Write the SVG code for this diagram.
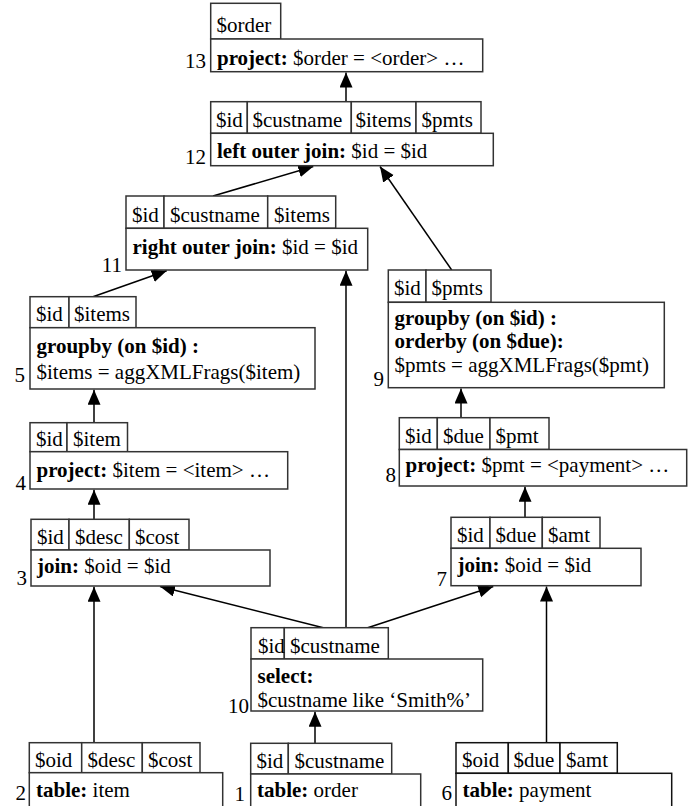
<svg xmlns="http://www.w3.org/2000/svg" width="692" height="806" viewBox="0 0 692 806">
<defs>
<style>
text{font-family:"Liberation Serif","Times New Roman",serif;font-size:21px;fill:#000}
.b{font-weight:bold}
.lbl{text-anchor:end}
rect{fill:#fff;stroke:#333;stroke-width:1.5}
.dk rect{stroke:#111}
.c line{stroke:#000;stroke-width:1.5;marker-end:url(#ah)}
</style>
<marker id="ah" markerUnits="userSpaceOnUse" markerWidth="16" markerHeight="14" refX="15" refY="6.5" orient="auto">
<path d="M0,0 L15,6.5 L0,13 z" fill="#000"/>
</marker>
</defs>
<rect x="0" y="0" width="692" height="806" style="fill:#fff;stroke:none"/>

<g class="c" id="connectors">
<line x1="346" y1="101.7" x2="346" y2="72.5"/>
<line x1="213" y1="196" x2="313.3" y2="166.5"/>
<line x1="451.7" y1="270" x2="380" y2="166.5"/>
<line x1="93" y1="296.7" x2="166.7" y2="270.8"/>
<line x1="346" y1="627.7" x2="346" y2="270.8"/>
<line x1="94" y1="422.7" x2="94" y2="389.8"/>
<line x1="94" y1="519.3" x2="94" y2="489.8"/>
<line x1="94" y1="742.7" x2="94" y2="586.8"/>
<line x1="323.3" y1="627.7" x2="160" y2="586.5"/>
<line x1="367.7" y1="627.7" x2="493.3" y2="586.5"/>
<line x1="546.5" y1="742.7" x2="546.5" y2="586.5"/>
<line x1="315" y1="743.3" x2="315" y2="711.8"/>
<line x1="461" y1="417.7" x2="461" y2="388.5"/>
<line x1="525" y1="517.3" x2="525" y2="486.8"/>
</g>

<g id="n13">
<rect x="210.7" y="3.3" width="70" height="35.7"/>
<text x="216.5" y="32">$order</text>
<rect x="210.7" y="39" width="272" height="32.7"/>
<text x="217" y="64.5"><tspan class="b">project:</tspan> $order = &lt;order&gt; …</text>
<text class="lbl" x="206" y="68">13</text>
</g>

<g id="n12">
<rect x="210.7" y="101.7" width="36.6" height="31.6"/>
<rect x="247.3" y="101.7" width="104" height="31.6"/>
<rect x="351.3" y="101.7" width="64.7" height="31.6"/>
<rect x="416" y="101.7" width="65" height="31.6"/>
<text x="216" y="126.5">$id</text>
<text x="252.5" y="126.5">$custname</text>
<text x="355.5" y="126.5">$items</text>
<text x="421.5" y="126.5">$pmts</text>
<rect x="210.7" y="133.3" width="282.6" height="32.4"/>
<text x="217" y="157.5"><tspan class="b">left outer join:</tspan> $id = $id</text>
<text class="lbl" x="206" y="164">12</text>
</g>

<g id="n11">
<rect x="126" y="196" width="38" height="32.3"/>
<rect x="164" y="196" width="103.7" height="32.3"/>
<rect x="267.7" y="196" width="68" height="32.3"/>
<text x="132" y="221.5">$id</text>
<text x="170" y="221.5">$custname</text>
<text x="274" y="221.5">$items</text>
<rect x="126" y="228.3" width="241.7" height="41.7"/>
<text x="132.5" y="253.5"><tspan class="b">right outer join:</tspan> $id = $id</text>
<text class="lbl" x="122" y="272">11</text>
</g>

<g id="n5">
<rect x="30" y="296.7" width="39" height="31"/>
<rect x="69" y="296.7" width="67" height="31"/>
<text x="36" y="321">$id</text>
<text x="74" y="321">$items</text>
<rect x="30" y="327.7" width="285" height="61.3"/>
<text x="36.5" y="353"><tspan class="b">groupby (on $id) :</tspan></text>
<text x="36.5" y="378.5">$items = aggXMLFrags($item)</text>
<text class="lbl" x="25" y="382">5</text>
</g>

<g id="n4">
<rect x="30" y="422.7" width="37" height="29"/>
<rect x="67" y="422.7" width="60.5" height="29"/>
<text x="36" y="446">$id</text>
<text x="73" y="446">$item</text>
<rect x="30" y="451.7" width="257.7" height="37.3"/>
<text x="36.5" y="477"><tspan class="b">project:</tspan> $item = &lt;item&gt; …</text>
<text class="lbl" x="26" y="490">4</text>
</g>

<g id="n3">
<rect x="31" y="519.3" width="38" height="30.7"/>
<rect x="69" y="519.3" width="60.3" height="30.7"/>
<rect x="129.3" y="519.3" width="59.7" height="30.7"/>
<text x="37" y="544">$id</text>
<text x="75" y="544">$desc</text>
<text x="135" y="544">$cost</text>
<rect x="31" y="550" width="239" height="36"/>
<text x="37" y="573"><tspan class="b">join:</tspan> $oid = $id</text>
<text class="lbl" x="27" y="585">3</text>
</g>

<g id="n2">
<rect x="29.3" y="742.7" width="52.4" height="30"/>
<rect x="81.7" y="742.7" width="60.6" height="30"/>
<rect x="142.3" y="742.7" width="57.7" height="30"/>
<text x="35" y="767">$oid</text>
<text x="87.5" y="767">$desc</text>
<text x="148" y="767">$cost</text>
<rect x="29.3" y="772.7" width="193.4" height="40"/>
<text x="36" y="797"><tspan class="b">table:</tspan> item</text>
<text class="lbl" x="26" y="800">2</text>
</g>

<g id="n1">
<rect x="250.7" y="743.3" width="37.6" height="30.7"/>
<rect x="288.3" y="743.3" width="103.4" height="30.7"/>
<text x="256.5" y="767.5">$id</text>
<text x="294.5" y="767.5">$custname</text>
<rect x="250.7" y="774" width="170" height="40"/>
<text x="257" y="797"><tspan class="b">table:</tspan> order</text>
<text class="lbl" x="245" y="801">1</text>
</g>

<g id="n10">
<rect x="251" y="627.7" width="33.3" height="31.3"/>
<rect x="284.3" y="627.7" width="104" height="31.3"/>
<text x="258" y="652.5">$id</text>
<text x="290" y="652.5">$custname</text>
<rect x="251" y="659" width="231.7" height="52"/>
<text x="257.5" y="683"><tspan class="b">select:</tspan></text>
<text x="257.5" y="706.5">$custname like ‘Smith%’</text>
<text class="lbl" x="249" y="713">10</text>
</g>

<g id="n9">
<rect x="388.3" y="270" width="37.7" height="32.3"/>
<rect x="426" y="270" width="65" height="32.3"/>
<text x="394" y="295">$id</text>
<text x="431.5" y="295">$pmts</text>
<rect x="388.3" y="302.3" width="276" height="85.4"/>
<text x="394.5" y="325"><tspan class="b">groupby (on $id) :</tspan></text>
<text x="394.5" y="348.3"><tspan class="b">orderby (on $due):</tspan></text>
<text x="394.5" y="371.5">$pmts = aggXMLFrags($pmt)</text>
<text class="lbl" x="384" y="386">9</text>
</g>

<g id="n8">
<rect x="399.3" y="417.7" width="38" height="31.8"/>
<rect x="437.3" y="417.7" width="52.7" height="31.8"/>
<rect x="490" y="417.7" width="59" height="31.8"/>
<text x="405" y="443">$id</text>
<text x="443" y="443">$due</text>
<text x="495.5" y="443">$pmt</text>
<rect x="399.3" y="449.5" width="287.4" height="36.5"/>
<text x="405.5" y="472"><tspan class="b">project:</tspan> $pmt = &lt;payment&gt; …</text>
<text class="lbl" x="396" y="482">8</text>
</g>

<g id="n7">
<rect x="451" y="517.3" width="39" height="31"/>
<rect x="490" y="517.3" width="52.3" height="31"/>
<rect x="542.3" y="517.3" width="57.7" height="31"/>
<text x="457" y="542">$id</text>
<text x="495.5" y="542">$due</text>
<text x="548" y="542">$amt</text>
<rect x="451" y="548.3" width="190" height="37.4"/>
<text x="457.5" y="572"><tspan class="b">join:</tspan> $oid = $id</text>
<text class="lbl" x="447" y="586">7</text>
</g>

<g id="n6" class="dk">
<rect x="456" y="742.7" width="52.3" height="30.6"/>
<rect x="508.3" y="742.7" width="51.7" height="30.6"/>
<rect x="560" y="742.7" width="57.3" height="30.6"/>
<text x="462" y="767">$oid</text>
<text x="513.5" y="767">$due</text>
<text x="566" y="767">$amt</text>
<rect x="456" y="773.3" width="215.7" height="40"/>
<text x="462.5" y="797"><tspan class="b">table:</tspan> payment</text>
<text class="lbl" x="452" y="800">6</text>
</g>
</svg>
